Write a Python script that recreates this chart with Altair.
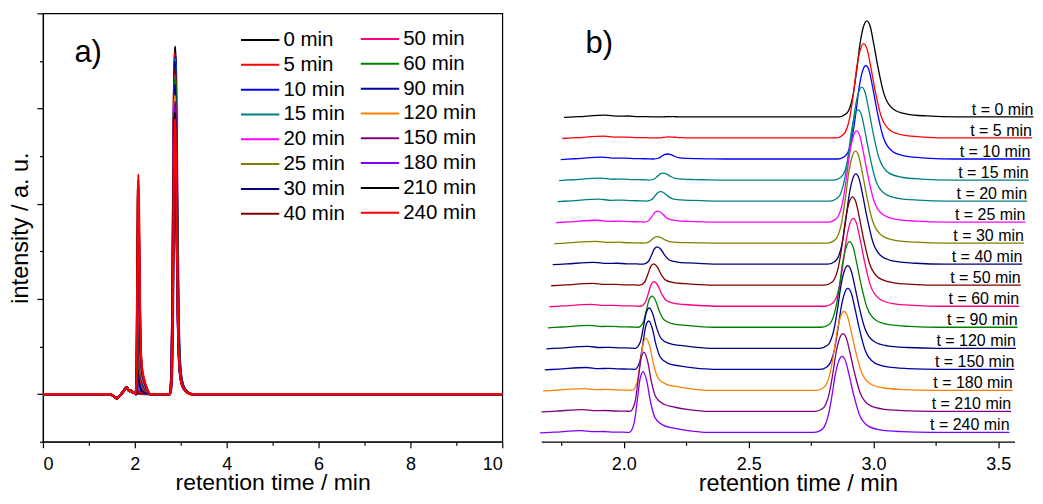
import altair as alt
import pandas as pd

# ---------------- data ----------------
times = [0, 5, 10, 15, 20, 25, 30, 40, 50, 60, 90, 120, 150, 180, 210, 240]
# main peak (retention time / min, height a.u.)
main_rt = [2.877, 2.871, 2.886, 2.876, 2.868, 2.868, 2.870, 2.878, 2.871, 2.880, 2.872, 2.871, 2.878, 2.869, 2.871, 2.874]
main_height = [7.30, 7.16, 7.10, 7.05, 6.92, 6.92, 6.98, 6.85, 6.70, 6.67, 6.50, 6.27, 6.14, 5.99, 5.91, 5.78]
# early-eluting product peak
imp_rt = [2.090, 2.091, 2.091, 2.081, 2.077, 2.072, 2.077, 2.083, 2.075, 2.083, 2.081, 2.076, 2.080, 2.076, 2.074, 2.077]
imp_height = [0.02, 0.08, 0.38, 0.53, 0.71, 0.83, 0.49, 1.32, 1.62, 1.87, 2.37, 3.06, 3.67, 3.97, 4.50, 4.62]
# peak profiles (offset from apex / min, fraction of apex height)
main_dx = [-0.112, -0.084, -0.072, -0.054, -0.040, -0.027, -0.013, 0.0, 0.014, 0.028, 0.047, 0.069, 0.107, 0.16, 0.24, 0.36]
main_rel = [0, 0.03, 0.07, 0.24, 0.49, 0.76, 0.94, 1, 0.94, 0.76, 0.49, 0.24, 0.08, 0.03, 0.01, 0]
imp_dx = [-0.056, -0.036, -0.024, -0.012, 0.0, 0.014, 0.030, 0.048, 0.08, 0.124, 0.18, 0.26]
imp_rel = [0, 0.15, 0.5, 0.88, 1, 0.86, 0.5, 0.24, 0.12, 0.07, 0.03, 0]
# baseline outside the peaks
base_x = [0, 1.42, 1.50, 1.615, 1.664, 1.72, 1.83, 1.88, 1.92, 1.96, 2.0, 2.4, 2.7, 3.3, 3.545, 10]
base_y = [0, 0, -0.02, -0.09, -0.04, 0.02, 0.14, 0.06, 0.07, 0.03, 0.02, 0, 0, 0, 0, 0]

legend_colors = ["#000000", "#FF0000", "#0000FF", "#008080", "#FF00FF", "#808000", "#000080", "#800000",
                 "#FF0080", "#008000", "#0000A0", "#FF8000", "#800080", "#8000FF", "#000000", "#FF0000"]
stack_colors = ["#000000", "#FF0000", "#0000FF", "#008080", "#008080", "#FF00FF", "#808000", "#000080",
                "#800000", "#FF0080", "#008000", "#000080", "#0000A0", "#FF8000", "#800080", "#8000FF"]

x_ticks_a = list(range(0, 11))
y_ticks_a = list(range(-1, 9))
x_ticks_b = [1.75, 2.0, 2.25, 2.5, 2.75, 3.0, 3.25, 3.5]

# ---------------- layout constants ----------------
FONT = "Liberation Sans"
W_A, H_A = 460, 429
W_B, H_B = 474, 429
XA, YA = [0, 10], [-1, 8]
XB, YB = [1.669, 3.565], [-0.705, 31.82]
B_LO, B_HI = 1.664, 3.545
X_SHIFT, Y_SHIFT = 0.0064, 1.597

n = len(times)
rows_a, rows_b, labs_b = [], [], []
for i, t in enumerate(times):
    pts = list(zip(base_x, base_y))
    pts += [(imp_rt[i] + dx, imp_height[i] * r) for dx, r in zip(imp_dx, imp_rel)]
    pts += [(main_rt[i] + dx, main_height[i] * r) for dx, r in zip(main_dx, main_rel)]
    pts.sort()
    k = n - 1 - i
    for j, (x, y) in enumerate(pts):
        rows_a.append({"s": i, "x": x, "y": y, "o": j})
        if B_LO - 1e-9 <= x <= B_HI + 1e-9:
            rows_b.append({"s": i, "x": x + k * X_SHIFT, "y": y + k * Y_SHIFT, "o": j})
    labs_b.append({"label": f"t = {t} min", "x": B_HI + k * X_SHIFT, "y": k * Y_SHIFT})

df_a = pd.DataFrame(rows_a)
df_b = pd.DataFrame(rows_b)
df_lb = pd.DataFrame(labs_b)

# legend rows (two columns of eight)
px_per_x = W_A / (XA[1] - XA[0])
px_per_y = H_A / (YA[1] - YA[0])
leg = []
for i, t in enumerate(times):
    c, r = i // 8, i % 8
    x1 = 198.3 + 120 * c
    py = 26.7 - 1.0 * c + 24.85 * r
    leg.append({"label": f"{t} min", "x1": x1 / px_per_x, "x2": (x1 + 38.4) / px_per_x,
                "xt": (x1 + 42.5) / px_per_x, "y": YA[1] - py / px_per_y})
df_leg = pd.DataFrame(leg)

# ---------------- panel a ----------------
def cond_tick(test, big=6, small=3.5):
    return {"condition": {"test": test, "value": big}, "value": small}

ax_xa = alt.Axis(values=x_ticks_a, labelExpr="datum.value % 2 === 0 ? datum.label : ''",
                 tickSize=cond_tick("datum.value % 2 === 0"), tickColor="black", tickWidth=1.2,
                 domainColor="black", domainWidth=1.2, grid=False, labelFont=FONT, labelFontSize=18,
                 labelColor="black", labelPadding=7.7, title="retention time / min", titleFont=FONT,
                 titleFontSize=23, titleFontWeight="normal", titleColor="black", titlePadding=-2)
ax_ya = alt.Axis(values=y_ticks_a, labels=False, tickSize=cond_tick("datum.value % 2 === 0"),
                 tickColor="black", tickWidth=1.2, domainColor="black", domainWidth=1.2, grid=False,
                 title="intensity / a. u.", titleFont=FONT, titleFontSize=23.5, titleFontWeight="normal",
                 titleColor="black", titlePadding=4)
xa = alt.X("x:Q", scale=alt.Scale(domain=XA, nice=False, zero=False), axis=ax_xa)
ya = alt.Y("y:Q", scale=alt.Scale(domain=YA, nice=False, zero=False), axis=ax_ya)

base_a = alt.Chart(df_a)
layers_a = []
for i in range(n):
    layers_a.append(
        base_a.transform_filter(alt.datum.s == i)
        .mark_line(color=legend_colors[i], strokeWidth=2.2, interpolate="monotone")
        .encode(x=xa, y=ya, order="o:Q")
    )

leg_color = alt.Color("label:N", scale=alt.Scale(domain=[f"{t} min" for t in times], range=legend_colors),
                      legend=None)
leg_rules = alt.Chart(df_leg).mark_rule(strokeWidth=2).encode(
    x=alt.X("x1:Q", scale=alt.Scale(domain=XA, nice=False, zero=False), axis=ax_xa),
    x2="x2:Q", y=alt.Y("y:Q", scale=alt.Scale(domain=YA, nice=False, zero=False), axis=ax_ya),
    color=leg_color)
leg_text = alt.Chart(df_leg).mark_text(align="left", baseline="middle", font=FONT, fontSize=20.5,
                                      color="black").encode(
    x=alt.X("xt:Q", scale=alt.Scale(domain=XA, nice=False, zero=False), axis=ax_xa),
    y=alt.Y("y:Q", scale=alt.Scale(domain=YA, nice=False, zero=False), axis=ax_ya),
    text="label:N")
tag_a = alt.Chart(pd.DataFrame({"t": ["a)"]})).mark_text(
    align="left", baseline="alphabetic", font=FONT, fontSize=31, color="black").encode(
    x=alt.value(31.5), y=alt.value(48.5), text="t:N")

panel_a = alt.layer(*layers_a, leg_rules, leg_text, tag_a).properties(
    width=W_A, height=H_A, view=alt.ViewBackground(stroke="black", strokeWidth=1.2))

# ---------------- panel b ----------------
major_b = "abs(datum.value * 2 - round(datum.value * 2)) < 0.001"
ax_xb = alt.Axis(values=x_ticks_b, labelExpr=f"{major_b} ? format(datum.value, '.1f') : ''",
                 tickSize=cond_tick(major_b), tickColor="black", tickWidth=1.2,
                 domainColor="black", domainWidth=1.2, grid=False, labelFont=FONT, labelFontSize=18,
                 labelColor="black", labelPadding=7.7, title="retention time / min", titleFont=FONT,
                 titleFontSize=23.5, titleFontWeight="normal", titleColor="black", titlePadding=-2,
                 titleX=257)
xb = alt.X("x:Q", scale=alt.Scale(domain=XB, nice=False, zero=False), axis=ax_xb)
yb = alt.Y("y:Q", scale=alt.Scale(domain=YB, nice=False, zero=False), axis=None)

base_b = alt.Chart(df_b)
layers_b = []
for i in range(n):
    layers_b.append(
        base_b.transform_filter(alt.datum.s == i)
        .mark_line(color=stack_colors[i], strokeWidth=1.3, interpolate="monotone")
        .encode(x=xb, y=yb, order="o:Q")
    )
lab_b = alt.Chart(df_lb).mark_text(align="right", baseline="middle", dy=-7, font=FONT, fontSize=16,
                                   color="black").encode(x=xb, y=yb, text="label:N")
tag_b = alt.Chart(pd.DataFrame({"t": ["b)"]})).mark_text(
    align="left", baseline="alphabetic", font=FONT, fontSize=31, color="black").encode(
    x=alt.value(44.3), y=alt.value(40), text="t:N")

panel_b = alt.layer(*layers_b, lab_b, tag_b).properties(width=W_B, height=H_B)

chart = alt.hconcat(panel_a, panel_b, spacing=39, bounds="flush").configure(
    padding={"left": -1, "top": 3, "right": -1.5, "bottom": 0}, font=FONT
).configure_view(strokeWidth=0)

chart.save("out.html", embed_options={"renderer": "svg", "actions": False})
